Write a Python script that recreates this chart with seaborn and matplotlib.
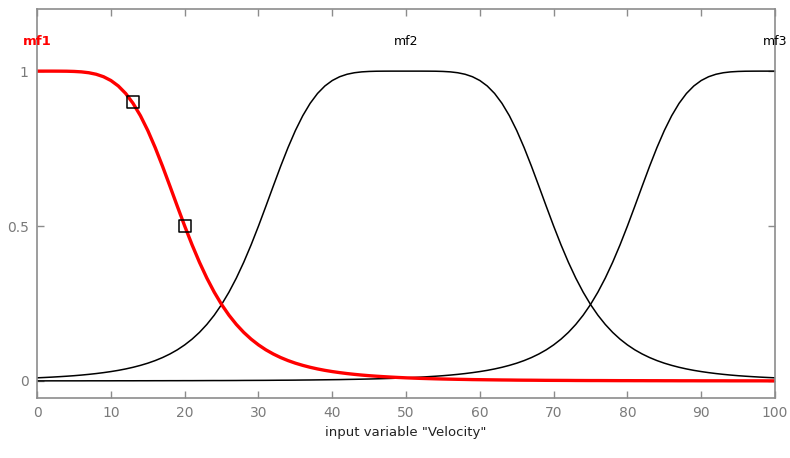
import matplotlib
matplotlib.use("Agg")
import matplotlib.pyplot as plt
import seaborn as sns
import pandas as pd

x = list(range(0, 101))

mf1 = [1.0000, 1.0000, 1.0000, 0.9999, 0.9997, 0.9990, 0.9976, 0.9948, 0.9899, 0.9819,
       0.9697, 0.9521, 0.9279, 0.8960, 0.8561, 0.8082, 0.7532, 0.6927, 0.6287, 0.5638,
       0.5000, 0.4393, 0.3831, 0.3321, 0.2867, 0.2468, 0.2122, 0.1824, 0.1568, 0.1350,
       0.1164, 0.1005, 0.0871, 0.0756, 0.0658, 0.0574, 0.0503, 0.0441, 0.0388, 0.0342,
       0.0303, 0.0269, 0.0239, 0.0213, 0.0190, 0.0170, 0.0153, 0.0138, 0.0124, 0.0112,
       0.0101, 0.0092, 0.0083, 0.0076, 0.0069, 0.0063, 0.0058, 0.0053, 0.0049, 0.0044,
       0.0041, 0.0038, 0.0035, 0.0032, 0.0030, 0.0027, 0.0025, 0.0024, 0.0022, 0.0020,
       0.0019, 0.0018, 0.0017, 0.0015, 0.0014, 0.0013, 0.0013, 0.0012, 0.0011, 0.0010,
       0.0010, 0.0009, 0.0009, 0.0008, 0.0008, 0.0007, 0.0007, 0.0006, 0.0006, 0.0006,
       0.0005, 0.0005, 0.0005, 0.0005, 0.0004, 0.0004, 0.0004, 0.0004, 0.0004, 0.0003,
       0.0003]

mf2 = [0.0101, 0.0112, 0.0124, 0.0138, 0.0153, 0.0170, 0.0190, 0.0213, 0.0239, 0.0269,
       0.0303, 0.0342, 0.0388, 0.0441, 0.0503, 0.0574, 0.0658, 0.0756, 0.0871, 0.1005,
       0.1164, 0.1350, 0.1568, 0.1824, 0.2122, 0.2468, 0.2867, 0.3321, 0.3831, 0.4393,
       0.5000, 0.5638, 0.6287, 0.6927, 0.7532, 0.8082, 0.8561, 0.8960, 0.9279, 0.9521,
       0.9697, 0.9819, 0.9899, 0.9948, 0.9976, 0.9990, 0.9997, 0.9999, 1.0000, 1.0000,
       1.0000,
       1.0000, 1.0000, 0.9999, 0.9997, 0.9990, 0.9976, 0.9948, 0.9899, 0.9819, 0.9697,
       0.9521, 0.9279, 0.8960, 0.8561, 0.8082, 0.7532, 0.6927, 0.6287, 0.5638, 0.5000,
       0.4393, 0.3831, 0.3321, 0.2867, 0.2468, 0.2122, 0.1824, 0.1568, 0.1350, 0.1164,
       0.1005, 0.0871, 0.0756, 0.0658, 0.0574, 0.0503, 0.0441, 0.0388, 0.0342, 0.0303,
       0.0269, 0.0239, 0.0213, 0.0190, 0.0170, 0.0153, 0.0138, 0.0124, 0.0112, 0.0101]

mf3 = [0.0003, 0.0003, 0.0004, 0.0004, 0.0004, 0.0004, 0.0004, 0.0005, 0.0005, 0.0005,
       0.0005, 0.0006, 0.0006, 0.0006, 0.0007, 0.0007, 0.0008, 0.0008, 0.0009, 0.0009,
       0.0010, 0.0010, 0.0011, 0.0012, 0.0013, 0.0013, 0.0014, 0.0015, 0.0017, 0.0018,
       0.0019, 0.0020, 0.0022, 0.0024, 0.0025, 0.0027, 0.0030, 0.0032, 0.0035, 0.0038,
       0.0041, 0.0044, 0.0049, 0.0053, 0.0058, 0.0063, 0.0069, 0.0076, 0.0083, 0.0092,
       0.0101, 0.0112, 0.0124, 0.0138, 0.0153, 0.0170, 0.0190, 0.0213, 0.0239, 0.0269,
       0.0303, 0.0342, 0.0388, 0.0441, 0.0503, 0.0574, 0.0658, 0.0756, 0.0871, 0.1005,
       0.1164, 0.1350, 0.1568, 0.1824, 0.2122, 0.2468, 0.2867, 0.3321, 0.3831, 0.4393,
       0.5000, 0.5638, 0.6287, 0.6927, 0.7532, 0.8082, 0.8561, 0.8960, 0.9279, 0.9521,
       0.9697, 0.9819, 0.9899, 0.9948, 0.9976, 0.9990, 0.9997, 0.9999, 1.0000, 1.0000,
       1.0000]

mf_names = ["mf1", "mf2", "mf3"]
label_x = [0, 50, 100]
sel_x = [13, 20]
sel_y = [0.9, 0.5]
x_ticks = list(range(0, 101, 10))
y_ticks = [0, 0.5, 1]
y_tick_labels = ["0", "0.5", "1"]

sns.set_style("white")
plt.rcParams["font.family"] = ["DejaVu Sans"]

fig = plt.figure(figsize=(7.9, 4.58), dpi=100)
ax = fig.add_axes([0.047, 0.131, 0.934, 0.849])

df = pd.DataFrame({"x": x, "mf1": mf1, "mf2": mf2, "mf3": mf3})

sns.lineplot(data=df, x="x", y="mf2", ax=ax, color="black", lw=1.1)
sns.lineplot(data=df, x="x", y="mf3", ax=ax, color="black", lw=1.1)
sns.lineplot(data=df, x="x", y="mf1", ax=ax, color="#ff0000", lw=2.4)
sns.scatterplot(x=sel_x, y=sel_y, ax=ax, marker="s", s=70,
                facecolor="none", edgecolor="black", linewidth=1.1, zorder=5)

ax.text(label_x[0], 1.095, mf_names[0], color="#ff0000", fontweight="bold",
        ha="center", va="center", fontsize=9.5)
ax.text(label_x[1], 1.095, mf_names[1], color="black",
        ha="center", va="center", fontsize=9)
ax.text(label_x[2], 1.095, mf_names[2], color="black",
        ha="center", va="center", fontsize=9)

ax.set_xlim(0, 100)
ax.set_ylim(-0.055, 1.2)
ax.set_xticks(x_ticks)
ax.set_yticks(y_ticks)
ax.set_yticklabels(y_tick_labels)
ax.set_xlabel('input variable "Velocity"', fontsize=9.5, color="#222222", labelpad=4)
ax.set_ylabel("")

gray = "#8c8c8c"
for s in ax.spines.values():
    s.set_visible(True)
    s.set_color(gray)
    s.set_linewidth(1.2)
ax.tick_params(direction="in", length=5, width=1, color=gray, labelcolor="#7a7a7a",
               labelsize=10, top=True, right=True, bottom=True, left=True, pad=6)

fig.savefig("out.png", dpi=100)
